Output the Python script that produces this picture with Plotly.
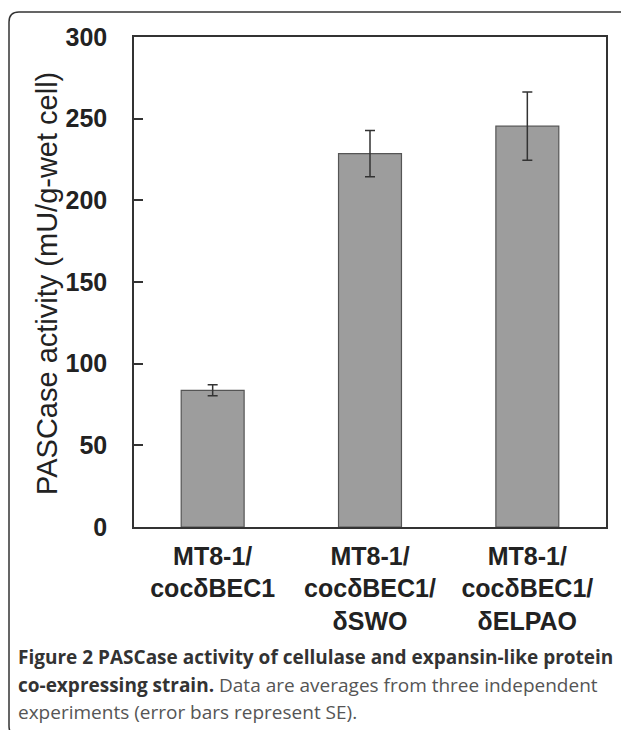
import plotly.graph_objects as go

categories = ["MT8-1/<br>cocδBEC1", "MT8-1/<br>cocδBEC1/<br>δSWO", "MT8-1/<br>cocδBEC1/<br>δELPAO"]
activity = [83.7, 228.6, 245.4]
se = [3.4, 14.1, 20.9]
y_ticks = [0, 50, 100, 150, 200, 250, 300]

W, H = 629, 730
OFF = 8  # page body margin
L, R, T, B = 134, 606, 37, 527  # plot area in page pixels

def px(x):
    return (x - L) / (R - L)

def py(y):
    return (B - y) / (B - T)

fig = go.Figure()
fig.add_trace(go.Bar(
    x=categories, y=activity,
    marker=dict(color="#9d9d9d", line=dict(color="#555555", width=1.2)),
    error_y=dict(type="data", array=se, visible=True, color="#333333", thickness=1.5, width=5),
    width=0.4,
))

# outer rounded frame
x0, y0, x1, y1, r = 9, 12, 630, 736, 10
path = (f"M {px(x0)},{py(y0 + r)} Q {px(x0)},{py(y0)} {px(x0 + r)},{py(y0)} "
        f"L {px(x1 - r)},{py(y0)} Q {px(x1)},{py(y0)} {px(x1)},{py(y0 + r)} "
        f"L {px(x1)},{py(y1 - r)} Q {px(x1)},{py(y1)} {px(x1 - r)},{py(y1)} "
        f"L {px(x0 + r)},{py(y1)} Q {px(x0)},{py(y1)} {px(x0)},{py(y1 - r)} Z")
fig.add_shape(type="path", path=path, xref="paper", yref="paper",
              line=dict(color="#333333", width=1.5))

fig.add_annotation(text="PASCase activity (mU/g-wet cell)", textangle=-90,
                   x=px(47), y=py(284), xref="paper", yref="paper", showarrow=False,
                   xanchor="center", yanchor="middle",
                   font=dict(family="Liberation Sans, Arial", size=29, color="#222222"))

cap_font = "Open Sans"
fig.add_annotation(text="<b>Figure 2 PASCase activity of cellulase and expansin-like protein</b>",
                   x=px(16), y=py(657), xref="paper", yref="paper", showarrow=False,
                   xanchor="left", yanchor="middle",
                   font=dict(family=cap_font, size=19, color="#333333"))
fig.add_annotation(text="<b>co-expressing strain.</b> <span style='color:#555555'>Data are averages from three independent</span>",
                   x=px(16), y=py(685), xref="paper", yref="paper", showarrow=False,
                   xanchor="left", yanchor="middle",
                   font=dict(family=cap_font, size=19, color="#333333"))
fig.add_annotation(text="experiments (error bars represent SE).",
                   x=px(16), y=py(712), xref="paper", yref="paper", showarrow=False,
                   xanchor="left", yanchor="middle",
                   font=dict(family=cap_font, size=19, color="#555555"))

fig.update_layout(
    width=W - OFF, height=H - OFF,
    margin=dict(l=L - OFF, r=W - R, t=T - OFF, b=H - B, pad=0),
    paper_bgcolor="white", plot_bgcolor="white",
    showlegend=False,
    bargap=0.6,
    font=dict(family="Liberation Sans, Arial", color="#222222"),
)
fig.update_xaxes(
    showline=True, linecolor="#333333", linewidth=1.5, mirror=True,
    ticks="", showgrid=False,
    tickfont=dict(size=25, family="Liberation Sans, Arial", weight="bold", color="#222222"),
    ticklabelstandoff=6,
)
fig.update_yaxes(
    range=[0, 300], tickvals=y_ticks,
    showline=True, linecolor="#333333", linewidth=1.5, mirror=True,
    ticks="inside", ticklen=9, tickcolor="#333333", tickwidth=1.5,
    showgrid=False, zeroline=False,
    tickfont=dict(size=25, family="Liberation Sans, Arial", weight="bold", color="#222222"),
    ticklabelstandoff=20,
)

fig.write_html("out.html")
